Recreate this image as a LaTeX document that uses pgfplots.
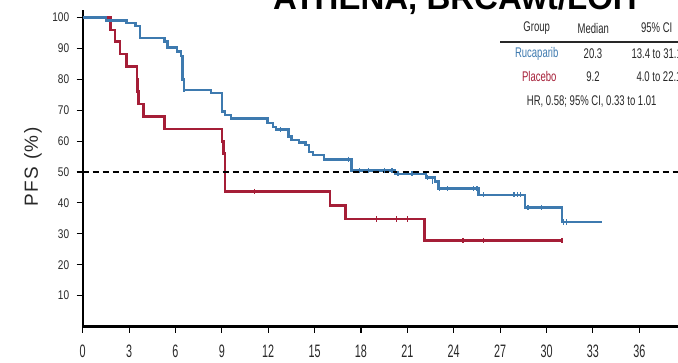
\documentclass[border=0pt]{standalone}
\usepackage{pgfplots}
\pgfplotsset{compat=1.18}
\usepackage{fontspec}
\setmainfont{Liberation Sans}
\newfontfamily\condY{Liberation Sans}[FakeStretch=0.8]
\newfontfamily\condX{Liberation Sans}[FakeStretch=0.6]
\newfontfamily\condT{Liberation Sans}[FakeStretch=0.68]
\definecolor{rucablue}{RGB}{62,122,175}
\definecolor{placred}{RGB}{165,30,55}
\definecolor{txt}{RGB}{40,40,40}
\begin{document}
\begin{tikzpicture}
\begin{axis}[
  anchor=origin, at={(0,0)},
  x=15.46bp, y=3.09bp,
  xmin=0, xmax=38.6, ymin=0, ymax=102.4,
  axis lines=left,
  axis line style={-},
  x axis line style={line width=2.7bp},
  y axis line style={line width=2.2bp},
  xtick={0,3,...,36}, ytick={10,20,...,100},
  tick align=outside, major tick length=6bp,
  tick style={line width=1.1bp, black},
  /pgf/number format/assume math mode=true,
  xticklabel style={font=\condX\fontsize{18bp}{18bp}\selectfont, text=txt, yshift=-9bp},
  yticklabel style={font=\condY\fontsize{12.6bp}{12.6bp}\selectfont, text=txt, xshift=-4bp},
]
% Placebo
\addplot[const plot, placred, line width=2.6bp] coordinates {
(0,100) (1.8,96) (2.1,92.2) (2.4,88.2) (2.85,84.1) (3.5,80) (3.55,76) (3.6,72)
(3.95,68) (5.3,63.9) (9.0,59.8) (9.1,56) (9.2,43.7) (16.0,39.1) (17.0,34.8)
(22.1,27.8) (31.0,27.8)};
\addplot[only marks, mark=|, mark size=2.6bp, placred, mark options={line width=1.2bp}] coordinates {
(11.1,43.7) (19.0,34.8) (20.3,34.8) (21.0,34.8) (24.6,27.8) (25.9,27.8) (31.0,27.8)};
% Rucaparib
\addplot[const plot, rucablue, line width=2.6bp] coordinates {
(0,100) (1.5,99) (2.85,98.2) (3.4,97.2) (3.7,93.4) (5.3,92.2) (5.5,90.2) (6.1,89)
(6.35,87.5) (6.45,80) (6.55,76.6) (8.3,75.6) (9.0,69.5) (9.2,68.4) (9.6,67.3)
(11.95,65.9) (12.3,64.6) (12.5,63.8) (13.3,61.4) (13.5,60.3) (14.0,59.6) (14.4,58.7)
(14.65,56.5) (14.9,55.5) (15.6,54.1) (17.4,50.5) (20.2,49.4) (22.2,48.3) (22.8,47.0)
(23.0,44.6) (25.6,42.6) (28.6,38.5) (31.0,33.8) (33.6,33.8)};
\addplot[only marks, mark=|, mark size=2.6bp, rucablue, mark options={line width=1.2bp}] coordinates {
(6.55,76.6) (12.8,63.8) (17.2,54.1) (17.9,50.5) (18.5,50.5) (19.5,50.5) (20.0,50.5)
(20.4,49.4) (21.3,49.4) (22.3,48.3) (22.6,47.0) (23.1,44.6) (23.6,44.6) (25.3,44.6)
(25.5,44.6) (25.9,42.6) (27.9,42.6) (28.1,42.6) (28.3,42.6) (28.8,38.5) (29.7,38.5)
(31.1,33.8) (31.3,33.8)};
% median line
\addplot[black, line width=2.2bp, dash pattern=on 6.5bp off 3.5bp] coordinates {(0,50) (38.6,50)};
\end{axis}
% title (cropped at the top, as in the reference)
\node[anchor=base west, inner sep=0, font=\bfseries\fontsize{33bp}{33bp}\selectfont] at (190.3bp,316.5bp) {ATHENA, BRCAwt/LOH};
% y label
\node[rotate=90, inner sep=0, font=\addfontfeature{LetterSpace=8}\fontsize{19bp}{19bp}\selectfont, text=txt] at (-49.7bp,159.5bp) {PFS (\%)};
% table
\begin{scope}[every node/.style={inner sep=0, font=\condT\fontsize{14bp}{14bp}\selectfont, text=txt}]
\node at (454bp,298.5bp) {Group};
\node at (510.6bp,298.5bp) {Median};
\node at (574bp,298.5bp) {95\% CI};
\draw[line width=1.8bp, txt] (417.3bp,284.8bp) -- (600bp,284.8bp);
\node[text=rucablue] at (454bp,272.5bp) {Rucaparib};
\node at (510.3bp,272.5bp) {20.3};
\node at (574bp,272.5bp) {13.4 to 31.1};
\node[text=placred] at (456.6bp,250bp) {Placebo};
\node at (510.3bp,250bp) {9.2};
\node at (576.3bp,250bp) {4.0 to 22.1};
\node at (509bp,225bp) {HR, 0.58; 95\% CI, 0.33 to 1.01};
\end{scope}
\pgfresetboundingbox
\useasboundingbox (-82.7bp,-36.5bp) rectangle (595.3bp,326.5bp);
\end{tikzpicture}
\end{document}
